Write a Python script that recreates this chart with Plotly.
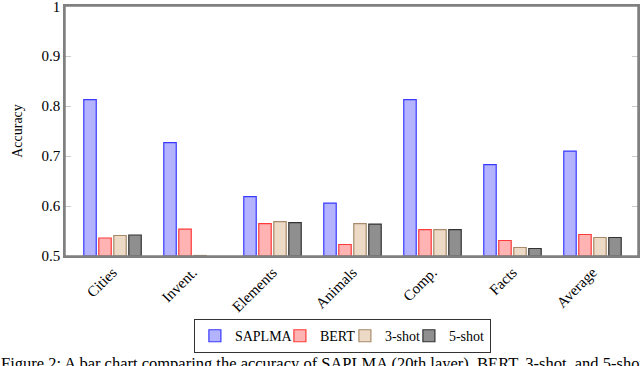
import plotly.graph_objects as go

# Datos
categories = ['Cities', 'Invent.', 'Elements', 'Animals', 'Comp.', 'Facts', 'Average']
saplma = [0.813, 0.727, 0.619, 0.606, 0.813, 0.683, 0.710]
bert = [0.536, 0.554, 0.565, 0.523, 0.553, 0.531, 0.543]
shot3 = [0.541, 0.501, 0.569, 0.565, 0.553, 0.517, 0.537]
shot5 = [0.542, None, 0.567, 0.564, 0.553, 0.515, 0.537]
y_ticks = [0.5, 0.6, 0.7, 0.8, 0.9, 1.0]
y_labels = ['0.5', '0.6', '0.7', '0.8', '0.9', '1']

serif = 'Liberation Serif, Times New Roman, DejaVu Serif, serif'

# nombre, valores, relleno, borde, ancho de leyenda
series = [
    ('SAPLMA', saplma, '#b3b3ff', '#3a3aff', 40),
    ('BERT', bert, '#ffb3b3', '#ff3a3a', 20),
    ('3-shot', shot3, '#ecd9c6', '#a88a6a', 19),
    ('5-shot', shot5, '#8f8f8f', '#333333', 36),
]

fig = go.Figure()
for name, vals, fill, edge, lw in series:
    fig.add_trace(go.Bar(
        x=categories, y=[v - 0.5 if v is not None else None for v in vals],
        base=0.5, name=name, legendwidth=lw,
        marker=dict(color=fill, line=dict(color=edge, width=1.2)),
    ))

fig.update_layout(
    width=640, height=366,
    margin=dict(l=65, r=2, t=6, b=110, autoexpand=False),
    plot_bgcolor='white', paper_bgcolor='white',
    barmode='group', bargap=0.25, bargroupgap=0.17,
    font=dict(family=serif, size=14, color='black'),
    legend=dict(orientation='h', x=0.535, xanchor='center', xref='container',
                y=0.128, yanchor='top', yref='container',
                bordercolor='#333333', borderwidth=1, itemwidth=30,
                font=dict(family=serif, size=14), tracegroupgap=0),
    showlegend=True,
)
fig.update_xaxes(range=[-0.594, 6.569], showline=True, linecolor='#808080', linewidth=1.5,
                 mirror=True, ticks='', tickangle=-45, automargin=False,
                 tickfont=dict(family=serif, size=15))
fig.update_yaxes(range=[0.5, 1.0005], tickvals=y_ticks, ticktext=y_labels, showgrid=False,
                 zeroline=False, showline=True, linecolor='#808080', linewidth=1.5,
                 mirror='ticks', ticks='inside', ticklen=6, tickcolor='#cccccc',
                 automargin=False, ticklabeloverflow='allow', tickfont=dict(family=serif, size=15),
                 title=dict(text='Accuracy', font=dict(family=serif, size=14), standoff=16))

# marco del area de dibujo
fig.add_shape(type='rect', xref='paper', yref='paper', x0=0, x1=1, y0=0, y1=1,
              line=dict(color='#808080', width=1.5), layer='above')

fig.add_annotation(text='Figure 2: A bar chart comparing the accuracy of SAPLMA (20th layer), BERT, 3-shot, and 5-shot',
                   xref='paper', yref='paper', x=-0.116, y=-0.385, xanchor='left', yanchor='top',
                   showarrow=False, font=dict(family=serif, size=16.5))

# la pagina trae margen de 8px en body, lo quitamos
fig.write_html('out.html', config={'displayModeBar': False},
               post_script="document.body.style.margin='0';")
